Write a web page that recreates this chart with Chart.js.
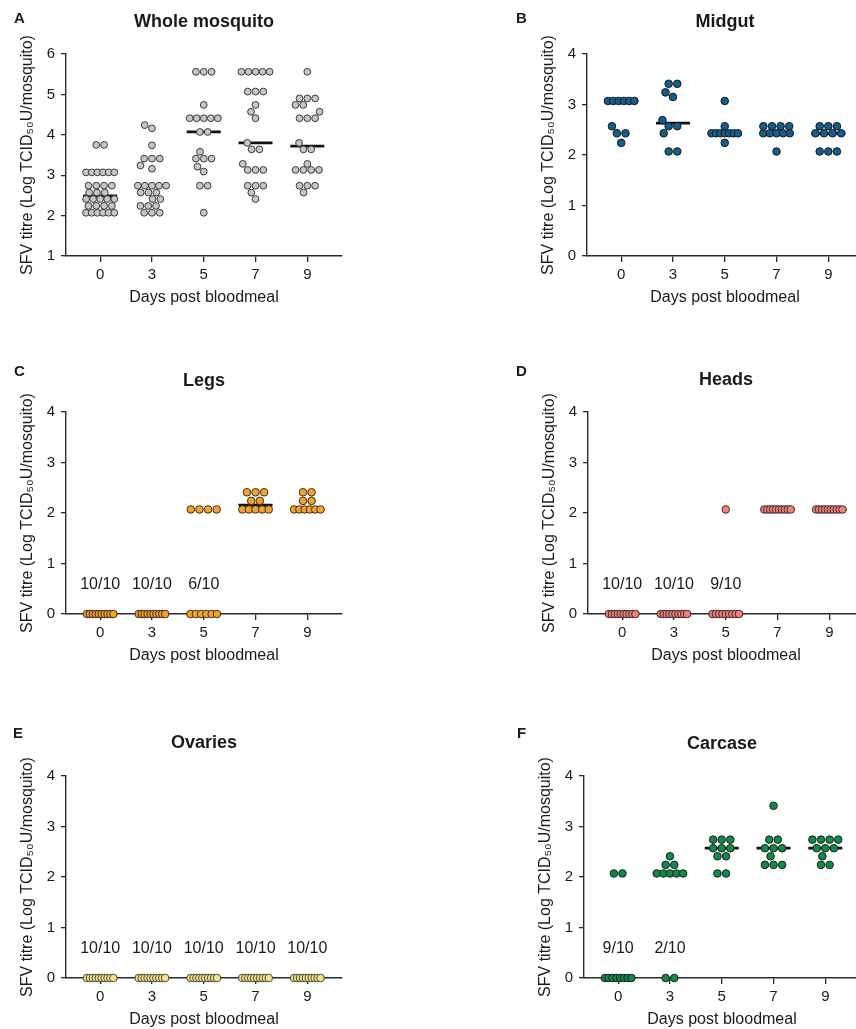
<!DOCTYPE html>
<html><head><meta charset="utf-8">
<script src="https://cdn.jsdelivr.net/npm/chart.js@4.4.1/dist/chart.umd.min.js"></script>
<style>
html,body{margin:0;padding:0;background:#fff;overflow:hidden;width:856px;height:1029px;position:relative;}
canvas{position:absolute;}
</style></head><body>
<canvas id="cA" width="370" height="310" style="left:-14px;top:0px"></canvas>
<canvas id="cB" width="370" height="310" style="left:507px;top:0px"></canvas>
<canvas id="cC" width="370" height="310" style="left:-14px;top:358px"></canvas>
<canvas id="cD" width="370" height="310" style="left:508px;top:358px"></canvas>
<canvas id="cE" width="370" height="310" style="left:-14px;top:722px"></canvas>
<canvas id="cF" width="370" height="310" style="left:504px;top:722px"></canvas>
<script>
// ---------------- DATA ----------------
const days = ['0', '3', '5', '7', '9'];

// Whole mosquito (Log TCID50 U/mosquito), one array per day
const wholeDay0 = [3.75,3.75, 3.07,3.07,3.07,3.07,3.07,3.07, 2.74,2.74,2.74,2.74, 2.57,2.57,2.57, 2.41,2.41,2.41,2.41,2.41, 2.24,2.24,2.24,2.24, 2.07,2.07,2.07,2.07,2.07,2.07];
const wholeDay3 = [4.24,4.16, 3.74, 3.41,3.41,3.41, 3.24,3.16, 2.74,2.74,2.74,2.74,2.74, 2.57,2.57,2.57, 2.41,2.41, 2.24,2.24,2.24, 2.07,2.07,2.07];
const wholeDay5 = [5.56,5.56,5.56, 4.74, 4.41,4.41,4.41,4.41,4.41, 4.07,4.07, 3.58, 3.41,3.41,3.41, 3.21, 3.09, 2.74,2.74, 2.07];
const wholeDay7 = [5.56,5.56,5.56,5.56,5.56, 5.07,5.07,5.07, 4.74, 4.57, 4.41, 3.80, 3.64,3.64, 3.28, 3.13,3.13,3.13, 2.74,2.74,2.74, 2.57, 2.41];
const wholeDay9 = [5.56, 4.90,4.90,4.90, 4.74,4.74, 4.57, 4.41,4.41,4.41, 3.80, 3.64,3.64, 3.28, 3.13,3.13,3.13,3.13, 2.74,2.74,2.74, 2.57];

// Midgut
const midgutDay0 = [3.07,3.07,3.07,3.07,3.07,3.07, 2.57, 2.43,2.43, 2.24];
const midgutDay3 = [3.41,3.41, 3.24, 3.15, 2.69, 2.57,2.57, 2.43, 2.07,2.07];
const midgutDay5 = [3.07, 2.57, 2.43,2.43,2.43,2.43,2.43,2.43,2.43, 2.24];
const midgutDay7 = [2.57,2.57,2.57,2.57, 2.43,2.43,2.43,2.43,2.43, 2.07];
const midgutDay9 = [2.57,2.57,2.57, 2.43,2.43,2.43,2.43, 2.07,2.07,2.07];

// Legs
const legsDay0 = [0,0,0,0,0,0,0,0,0,0];
const legsDay3 = [0,0,0,0,0,0,0,0,0,0];
const legsDay5 = [2.07,2.07,2.07,2.07, 0,0,0,0,0,0];
const legsDay7 = [2.41,2.41,2.41, 2.24,2.24, 2.07,2.07,2.07,2.07,2.07];
const legsDay9 = [2.41,2.41, 2.24,2.24, 2.07,2.07,2.07,2.07,2.07,2.07];
const legsCounts = ['10/10', '10/10', '6/10', '', ''];

// Heads
const headsDay0 = [0,0,0,0,0,0,0,0,0,0];
const headsDay3 = [0,0,0,0,0,0,0,0,0,0];
const headsDay5 = [2.07, 0,0,0,0,0,0,0,0,0];
const headsDay7 = [2.07,2.07,2.07,2.07,2.07,2.07,2.07,2.07,2.07,2.07];
const headsDay9 = [2.07,2.07,2.07,2.07,2.07,2.07,2.07,2.07,2.07,2.07];
const headsCounts = ['10/10', '10/10', '9/10', '', ''];

// Ovaries
const ovariesDay0 = [0,0,0,0,0,0,0,0,0,0];
const ovariesDay3 = [0,0,0,0,0,0,0,0,0,0];
const ovariesDay5 = [0,0,0,0,0,0,0,0,0,0];
const ovariesDay7 = [0,0,0,0,0,0,0,0,0,0];
const ovariesDay9 = [0,0,0,0,0,0,0,0,0,0];
const ovariesCounts = ['10/10', '10/10', '10/10', '10/10', '10/10'];

// Carcase
const carcaseDay0 = [2.07,2.07, 0,0,0,0,0,0,0,0];
const carcaseDay3 = [2.41, 2.24,2.24, 2.07,2.07,2.07,2.07,2.07, 0,0];
const carcaseDay5 = [2.74,2.74,2.74, 2.57,2.57,2.57, 2.41,2.41, 2.07,2.07];
const carcaseDay7 = [3.41, 2.74,2.74, 2.57,2.57,2.57, 2.41, 2.24,2.24,2.24];
const carcaseDay9 = [2.74,2.74,2.74,2.74, 2.57,2.57,2.57, 2.41, 2.24,2.24];
const carcaseCounts = ['9/10', '2/10', '', '', ''];

// ---------------- RENDERING ----------------
const FONT = '"Liberation Sans", Arial, Helvetica, sans-serif';
const TXT = '#1a1a1a';

function median(arr) {
  const s = [...arr].sort((a, b) => a - b);
  const n = s.length;
  return n % 2 ? s[(n - 1) / 2] : (s[n / 2 - 1] + s[n / 2]) / 2;
}

// Prism-like scatter-dot arrangement: equal values form centred rows (compressed
// to a max width), rows are then shifted sideways to reduce overlap.
function swarm(chart, groups, dotD, W) {
  const xs = chart.scales.x, ys = chart.scales.y;
  const pxPerX = xs.getPixelForValue(1) - xs.getPixelForValue(0);
  const out = [];
  groups.forEach((vals, gi) => {
    const counts = new Map();
    vals.forEach(v => counts.set(v, (counts.get(v) || 0) + 1));
    const rows = [...counts.entries()].map(([v, n]) => ({ v, n, py: ys.getPixelForValue(v) }));
    rows.sort((a, b) => b.n - a.n || a.v - b.v);
    const placed = [];
    const half = (W - dotD) / 2;
    rows.forEach(row => {
      const n = row.n;
      const s = n > 1 ? Math.min(dotD, (W - dotD) / (n - 1)) : 0;
      const base = [];
      for (let k = 0; k < n; k++) base.push((k - (n - 1) / 2) * s);
      const ext = (n - 1) * s / 2;
      const maxK = Math.floor(Math.max(0, half - ext) / 0.25);
      let best = 0, bestCost = Infinity;
      for (let k = -maxK; k <= maxK; k++) {
        const t = k * 0.25;
        let cost = 0.002 * Math.abs(t);
        for (const b of base) for (const p of placed) {
          const d = Math.hypot(b + t - p.ox, row.py - p.py);
          const ov = Math.max(0, dotD - d);
          cost += ov * ov;
        }
        if (cost < bestCost - 1e-9 || (Math.abs(cost - bestCost) < 1e-9 && Math.abs(t) < Math.abs(best))) {
          bestCost = cost; best = t;
        }
      }
      base.forEach(b => {
        placed.push({ ox: b + best, py: row.py });
        out.push({ x: gi + (b + best) / pxPerX, y: row.v });
      });
    });
  });
  return out;
}

function textPlugin(p) {
  return {
    id: 'panelText',
    afterDraw(chart) {
      const ctx = chart.ctx, ca = chart.chartArea;
      ctx.save();
      ctx.fillStyle = TXT;
      ctx.textBaseline = 'middle';
      ctx.textAlign = 'left';
      ctx.font = 'bold 15px ' + FONT;
      ctx.fillText(p.letter, p.letterX, p.letterY);
      ctx.textAlign = 'center';
      ctx.font = 'bold 18px ' + FONT;
      ctx.fillText(p.title, (ca.left + ca.right) / 2, p.titleY);
      if (p.counts) {
        ctx.font = '16px ' + FONT;
        const y0 = chart.scales.y.getPixelForValue(0) - 29.5;
        p.counts.forEach((t, i) => { if (t) ctx.fillText(t, chart.scales.x.getPixelForValue(i), y0); });
      }
      ctx.restore();
    }
  };
}

function makePanel(p) {
  const groups = p.groups;
  const datasets = groups.map((g, i) => ({
    type: 'scatter',
    data: [{ x: i - 0.33, y: median(g) }, { x: i + 0.33, y: median(g) }],
    showLine: true, borderColor: '#111', borderWidth: 2.8, borderCapStyle: 'butt',
    pointRadius: 0, pointHoverRadius: 0, order: 2, clip: false, fill: false
  }));
  const pts = [];
  groups.forEach((g, i) => g.forEach(v => pts.push({ x: i, y: v })));
  datasets.push({
    type: 'scatter', data: pts,
    pointRadius: p.r, pointHoverRadius: p.r,
    backgroundColor: p.fill, borderColor: p.stroke, borderWidth: 1,
    order: 1, clip: false
  });
  const axisColor = '#2a2a2a';
  const chart = new Chart(document.getElementById(p.id), {
    type: 'scatter',
    data: { datasets },
    plugins: [textPlugin(p)],
    options: {
      responsive: false, animation: false, devicePixelRatio: 1,
      layout: { padding: { left: 0, top: 54, right: 14, bottom: 0 } },
      plugins: { legend: { display: false }, tooltip: { enabled: false }, title: { display: false } },
      scales: {
        x: {
          type: 'linear', position: 'bottom', min: -0.66, max: 4.67,
          afterBuildTicks: s => { s.ticks = days.map((d, i) => ({ value: i })); },
          afterFit: s => { s.height = 54; },
          ticks: { callback: v => days[v], font: { family: FONT, size: 15 }, color: TXT, padding: 4, maxRotation: 0 },
          grid: { display: true, drawOnChartArea: false, drawTicks: true, tickLength: 6, color: axisColor, lineWidth: 1.3 },
          border: { display: true, color: axisColor, width: 1.4 },
          title: { display: true, text: 'Days post bloodmeal', font: { family: FONT, size: 16 }, color: TXT, padding: { top: 0, bottom: 2.4 } }
        },
        y: {
          type: 'linear', position: 'left', min: p.yMin, max: p.yMax,
          afterFit: s => { s.width = 80; },
          ticks: { stepSize: 1, font: { family: FONT, size: 15 }, color: TXT, padding: 6 },
          grid: { display: true, drawOnChartArea: false, drawTicks: true, tickLength: 5, color: axisColor, lineWidth: 1.3 },
          border: { display: true, color: axisColor, width: 1.4 },
          title: { display: true, text: 'SFV titre (Log TCID\u2085\u2080U/mosquito)', font: { family: FONT, size: 16 }, color: TXT, padding: { top: 32.4, bottom: 0 } }
        }
      }
    }
  });
  // second pass: arrange dots & median widths in pixel space via the scales
  const xs = chart.scales.x;
  const pxPerX = xs.getPixelForValue(1) - xs.getPixelForValue(0);
  const mh = 17 / pxPerX;
  groups.forEach((g, i) => {
    const m = median(g);
    chart.data.datasets[i].data = [{ x: i - mh, y: m }, { x: i + mh, y: m }];
  });
  chart.data.datasets[groups.length].data = swarm(chart, groups, p.dotD, p.W);
  chart.update('none');
  return chart;
}

makePanel({ id: 'cA', letter: 'A', letterX: 28, letterY: 19, title: 'Whole mosquito', titleY: 22,
  groups: [wholeDay0, wholeDay3, wholeDay5, wholeDay7, wholeDay9], yMin: 1, yMax: 6,
  fill: '#c6c6c6', stroke: '#3a3a3a', r: 3.4, dotD: 7.8, W: 36 });
makePanel({ id: 'cB', letter: 'B', letterX: 9, letterY: 18.5, title: 'Midgut', titleY: 22.5,
  groups: [midgutDay0, midgutDay3, midgutDay5, midgutDay7, midgutDay9], yMin: 0, yMax: 4,
  fill: '#125f8f', stroke: '#161616', r: 3.8, dotD: 8.6, W: 35 });
makePanel({ id: 'cC', letter: 'C', letterX: 28, letterY: 14, title: 'Legs', titleY: 23.5,
  groups: [legsDay0, legsDay3, legsDay5, legsDay7, legsDay9], yMin: 0, yMax: 4, counts: legsCounts,
  fill: '#f6a12f', stroke: '#3a2e1a', r: 3.8, dotD: 8.6, W: 35 });
makePanel({ id: 'cD', letter: 'D', letterX: 8, letterY: 14, title: 'Heads', titleY: 22.5,
  groups: [headsDay0, headsDay3, headsDay5, headsDay7, headsDay9], yMin: 0, yMax: 4, counts: headsCounts,
  fill: '#f48179', stroke: '#402a2a', r: 3.8, dotD: 8.6, W: 35 });
makePanel({ id: 'cE', letter: 'E', letterX: 27, letterY: 12, title: 'Ovaries', titleY: 21.5,
  groups: [ovariesDay0, ovariesDay3, ovariesDay5, ovariesDay7, ovariesDay9], yMin: 0, yMax: 4, counts: ovariesCounts,
  fill: '#f3e58f', stroke: '#4e4a36', r: 3.8, dotD: 8.6, W: 35 });
makePanel({ id: 'cF', letter: 'F', letterX: 13, letterY: 12, title: 'Carcase', titleY: 22,
  groups: [carcaseDay0, carcaseDay3, carcaseDay5, carcaseDay7, carcaseDay9], yMin: 0, yMax: 4, counts: carcaseCounts,
  fill: '#12894b', stroke: '#13231a', r: 3.8, dotD: 8.6, W: 35 });
</script>
</body></html>
